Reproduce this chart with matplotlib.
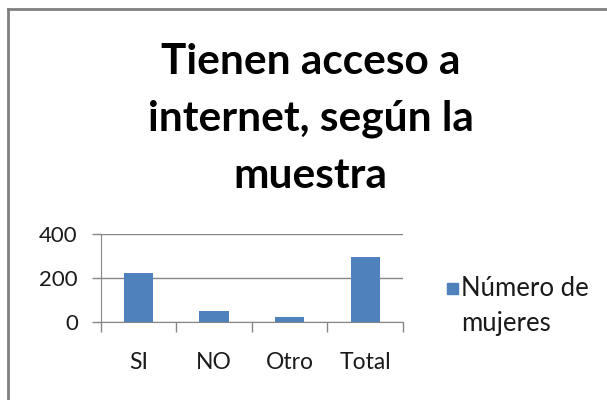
import numpy as np
import matplotlib
matplotlib.use('Agg')
import matplotlib.pyplot as plt
from matplotlib.lines import Line2D
from matplotlib.patches import Rectangle

categories = ['SI', 'NO', 'Otro', 'Total']
mujeres = [223, 47, 23, 298]
yticks = [0, 200, 400]
title = 'Tienen acceso a\ninternet, según la\nmuestra'
legend_label = 'Número de\nmujeres'

plt.rcParams['font.family'] = ['Lato', 'DejaVu Sans']

fig = plt.figure(figsize=(6.07, 4.00), dpi=100)
ax = fig.add_axes([0.166, 0.196, 0.498, 0.218])

x = np.arange(len(categories))
ax.bar(x, mujeres, width=0.39, color='#4F81BD', zorder=3)

ax.set_xlim(-0.5, len(categories) - 0.5)
ax.set_ylim(0, 400)
ax.set_yticks(yticks)
ax.set_yticklabels([str(v) for v in yticks], fontsize=16, color='#1a1a1a')
ax.tick_params(axis='y', length=6.5, color='#868686', width=1, pad=10)
ax.grid(True, axis='y', color='#868686', linewidth=1, zorder=0)

# category ticks sit between the groups
ax.set_xticks(np.arange(len(categories) + 1) - 0.5)
ax.set_xticklabels([])
ax.tick_params(axis='x', length=7, color='#868686', width=1)
for xi, cat in zip(x, categories):
    ax.text(xi, -0.47, cat, transform=ax.get_xaxis_transform(),
            ha='center', va='center', fontsize=16.5, color='#1a1a1a')

for side in ['top', 'right']:
    ax.spines[side].set_visible(False)
ax.spines['left'].set_color('#868686')
ax.spines['bottom'].set_color('#868686')

fig.text(0.512, 0.7025, title, ha='center', va='center', fontsize=30.5,
         fontweight='bold', linespacing=1.6, color='black')

# legend drawn by hand: square next to the first text line
fig.add_artist(Rectangle((0.7364, 0.265), 0.0181, 0.0275, color='#4F81BD',
                         transform=fig.transFigure))
fig.text(0.7595, 0.235, legend_label, ha='left', va='center', fontsize=18.5,
         linespacing=1.48, color='#1a1a1a')

# chart frame (only the top and left edges are visible in the crop)
fig.add_artist(Line2D([0.0135, 1.0], [0.9775, 0.9775], color='#808080',
                      linewidth=2, transform=fig.transFigure))
fig.add_artist(Line2D([0.0135, 0.0135], [0.0, 0.9775], color='#808080',
                      linewidth=2, transform=fig.transFigure))

fig.savefig('out.png', dpi=100)
